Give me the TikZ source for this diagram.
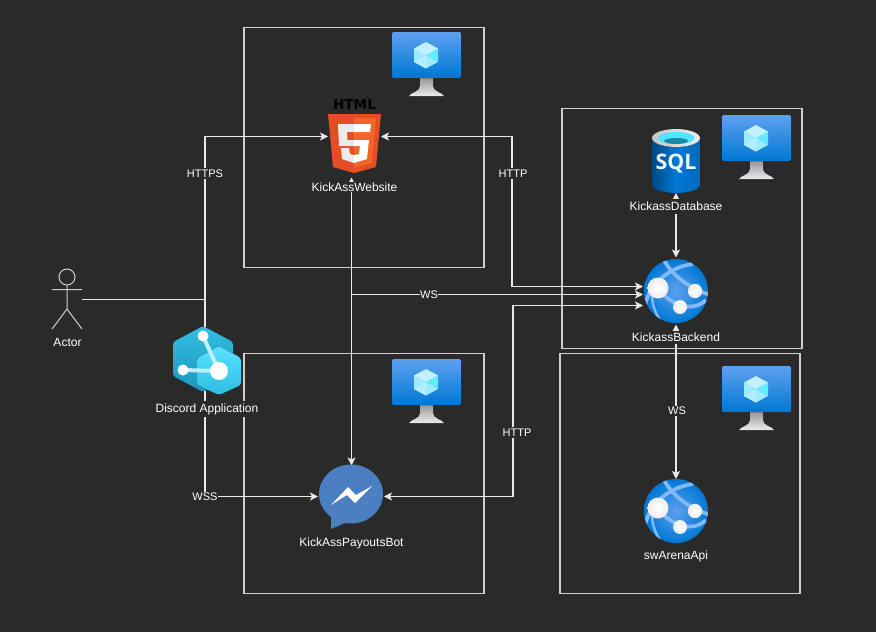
\documentclass[tikz,border=0pt]{standalone}
\usepackage{fontspec}
\setmainfont{Liberation Sans}
\newfontfamily\htmlfont{DejaVu Sans}
\newfontfamily\sqlfont{Open Sans}
\usetikzlibrary{arrows.meta,calc,positioning}
\definecolor{bgc}{HTML}{2A2A2A}
\definecolor{linec}{HTML}{E8E8E8}
\definecolor{boxc}{HTML}{CFCFCF}
\definecolor{blueA}{RGB}{94,160,239}
\definecolor{blueB}{RGB}{0,120,212}
\definecolor{arcc}{RGB}{131,185,249}
\tikzset{
  x=0.75pt,y=-0.75pt,
  box/.style={draw=boxc,line width=0.95pt,inner sep=0pt,minimum width=180pt,minimum height=180pt},
  conn/.style={draw=linec,line width=0.85pt},
  both/.style={{Stealth[length=6pt,width=6pt,inset=1.5pt]}-{Stealth[length=6pt,width=6pt,inset=1.5pt]}},
  fwd/.style={-{Stealth[length=6pt,width=6pt,inset=1.5pt]}},
  lab/.style={font=\fontsize{9}{10.5}\selectfont,text=white,fill=bgc,inner xsep=0.5pt,inner ysep=1.9pt},
  elab/.style={font=\fontsize{8.25}{9.5}\selectfont,text=white,fill=bgc,inner xsep=0.3pt,inner ysep=1pt},
  slot/.style={inner sep=0pt,outer sep=0pt},
  ball/.style={inner color=white,outer color=white!86!gray},
  monitor/.pic={
    \fill[top color=gray!85!white,bottom color=gray!15!white] (28,45) -- (28,54) .. controls (28,60) and (19,60) .. (17,64) -- (52,64) .. controls (50,60) and (41,60) .. (41,54) -- (41,45) -- cycle;
    \fill[rounded corners=1pt,top color=blueA,bottom color=blueB] (0,0) rectangle (69,46);
    \fill[color={rgb,255:red,156;green,235;blue,255}] (34,23) -- (22,16.5) -- (22,30) -- (34,36.5) -- cycle;
    \fill[color={rgb,255:red,100;green,235;blue,255}] (34,23) -- (46,16.5) -- (46,30) -- cycle;
    \fill[color={rgb,255:red,156;green,235;blue,255}] (34,23) -- (46,30) -- (34,36.5) -- cycle;
    \fill[color={rgb,255:red,178;green,238;blue,255}] (34,23) -- (22,30) -- (34,36.5) -- cycle;
    \fill[color={rgb,255:red,195;green,241;blue,255}] (34,10) -- (46,16.5) -- (34,23) -- (22,16.5) -- cycle;
  },
  globe/.pic={
    \shade[inner color=blueA,outer color=blueB] (0,0) circle [radius=32];
    \begin{scope}
      \clip (0,0) circle [radius=32];
      \draw[line width=2.8pt,color=arcc] (-13,-33) .. controls (-6,-18) and (10,-4) .. (34,4);
      \draw[line width=2.8pt,color=arcc] (-31,14) .. controls (-26,-8) and (-6,-24) .. (17,-27);
      \draw[line width=2.8pt,color=arcc] (-16,0) .. controls (-8,10) and (14,24) .. (30,9);
      \draw[line width=1.8pt,color=arcc] (-24,4) .. controls (-24,14) and (-20,24) .. (-14,32);
    \end{scope}
    \shade[ball] (-18,-3) circle [radius=10.5];
    \shade[ball] (19,0) circle [radius=7.2];
    \shade[ball] (4,16) circle [radius=7];
  }
}
\begin{document}
\begin{tikzpicture}
\useasboundingbox[fill=bgc] (0,0) rectangle (876,632);

% frames
\node[box] (frameA) at (364,147.5) {};
\node[box] (frameB) at (682,228.5) {};
\node[box] (frameC) at (364,473.5) {};
\node[box] (frameD) at (680,473.5) {};

% anchor slots for the icons
\node[slot,minimum width=39.75pt,minimum height=61.5pt] (html) at (354.5,136.5) {};
\node[slot,minimum width=36pt,minimum height=48pt] (sql) at (676,161) {};
\node[slot,minimum width=49.5pt,minimum height=50.25pt] (backend) at (676,291) {};
\node[slot,minimum width=48pt,minimum height=48pt] (api) at (676,511) {};
\node[slot,minimum width=49.5pt,minimum height=46.5pt] (bot) at (351,496.5) {};
\node[slot,minimum width=22.5pt,minimum height=45pt] (actor) at (67,299.5) {};
\node[slot,minimum width=51pt,minimum height=52pt] (discord) at (207,361) {};

\coordinate (j1) at (205,299.5);
\coordinate (j2) at (351.5,294.5);
\coordinate (j3) at (512,136.5);
\coordinate (j4) at (512,286.5);
\coordinate (j5) at (513,496.5);
\coordinate (j6) at (513,305.5);
\coordinate (j7) at (205,136.5);
\coordinate (j8) at (205,496.5);

% connectors
\draw[conn] (actor.east) -- (j1);
\draw[conn,fwd] (j1) -- (j7) -- (html.west);
\draw[conn,fwd] (j1) -- (j8) -- (bot.west);
\draw[conn,both] ($(html.south)+(-3,0)$) -- ($(bot.north)+(0.5,0)$);
\draw[conn,both] (html.east) -- (j3) -- (j4) -- ($(backend.west)+(0,-4.5)$);
\draw[conn,fwd] (j2) -- ($(backend.west)+(0,3.5)$);
\draw[conn,both] (bot.east) -- (j5) -- (j6) -- ($(backend.west)+(0,14.5)$);
\draw[conn,both] (sql.south) -- (backend.north);
\draw[conn,both] (backend.south) -- (api.north);

% monitors
\pic at (392,32) {monitor};
\pic at (722,115) {monitor};
\pic at (392,359) {monitor};
\pic at (722,366) {monitor};

% html5 icon
\node[font=\htmlfont\bfseries\fontsize{10.2}{10.2}\selectfont,text=black,inner sep=0pt] (htmltext) at (354.5,104.5) {HTML};
\fill[color={rgb,255:red,228;green,77;blue,38}] (328,114) -- (381,114) -- (376,167) -- (354,173) -- (333,167) -- cycle;
\fill[color={rgb,255:red,241;green,101;blue,41}] (354,118) -- (376,118) -- (372,163) -- (354,168) -- cycle;
\fill[white] (354,124) -- (371,124) -- (370,132) -- (354,132) -- (354,140) -- (369,140) -- (367,159) -- (354,163) -- (354,155) -- (359,154) -- (360,146) -- (354,146) -- cycle;
\fill[color={rgb,255:red,235;green,235;blue,235}] (354,124) -- (338,124) -- (339,146) -- (354,146) -- (354,140) -- (347.5,140) -- (347,132) -- (354,132) -- cycle;
\fill[color={rgb,255:red,235;green,235;blue,235}] (354,155) -- (350,154) -- (349,148) -- (341,148) -- (342,159) -- (354,163) -- cycle;

% sql icon
\fill[left color={rgb,255:red,0;green,72;blue,130},right color={rgb,255:red,0;green,105;blue,190},middle color=blueB] (652,138) -- (652,185) arc [start angle=180,end angle=360,x radius=24,y radius=-8] -- (700,138) -- cycle;
\fill[left color={rgb,255:red,200;green,200;blue,200},right color={rgb,255:red,235;green,235;blue,235}] (676,138) ellipse [x radius=24,y radius=9];
\fill[color={rgb,255:red,80;green,230;blue,255}] (676,138) ellipse [x radius=18.5,y radius=6];
\fill[color={rgb,255:red,25;green,140;blue,170}] (676,141) ellipse [x radius=12,y radius=3];
\node[font=\sqlfont\bfseries\fontsize{16}{16}\selectfont,text=white!92!cyan,inner sep=0pt] (sqltext) at (676,164) {SQL};

% globes
\pic at (backend.center) {globe};
\pic at (api.center) {globe};

% messenger
\fill[color={rgb,255:red,74;green,127;blue,193}] (351,494) ellipse [x radius=32,y radius=29.5];
\fill[color={rgb,255:red,74;green,127;blue,193}] (331,510) -- (331,529) -- (352,520) -- cycle;
\fill[white] (331,505) -- (348,487) -- (356,495) -- (372,486) -- (355,503) -- (347,495) -- cycle;

% actor
\draw[line width=0.75pt,draw=boxc] (67,277) circle [radius=8];
\draw[line width=0.75pt,draw=boxc] (67,285) -- (67,309) (52,289.5) -- (82,289.5) (52,329) -- (67,309) -- (82,329);

% discord
\fill[rounded corners=2pt,top color={rgb,255:red,50;green,190;blue,225},bottom color={rgb,255:red,30;green,150;blue,190}] (203,326) -- (233,342) -- (233,376) -- (203,392) -- (173,376) -- (173,342) -- cycle;
\fill[rounded corners=2pt,top color={rgb,255:red,90;green,225;blue,255},bottom color={rgb,255:red,45;green,190;blue,225}] (219,346) -- (241,358) -- (241,385) -- (219,395) -- (197,385) -- (197,358) -- cycle;
\draw[line width=3pt,color={rgb,255:red,190;green,240;blue,250}] (203,336) -- (219,371) -- (183,370);
\fill[white] (203,336) circle [radius=5.5];
\fill[white] (183,370) circle [radius=5.5];
\fill[white] (219,371) circle [radius=9];

% labels
\node[lab,inner ysep=0.3pt] (l1) at (354.5,187) {KickAssWebsite};
\node[lab,inner ysep=2.6pt] (l2) at (676,206.5) {KickassDatabase};
\node[lab] (l3) at (676,337.5) {KickassBackend};
\node[lab] (l4) at (676,556) {swArenaApi};
\node[lab] (l5) at (351.5,543) {KickAssPayoutsBot};
\node[lab] (l6) at (67.5,342) {Actor};
\node[lab] (l7) at (207,409) {Discord Application};
\node[elab] (e1) at (205,173.5) {HTTPS};
\node[elab] (e2) at (205,497) {WSS};
\node[elab] (e3) at (513,173.5) {HTTP};
\node[elab] (e4) at (429,294.5) {WS};
\node[elab] (e5) at (517,432.5) {HTTP};
\node[elab] (e6) at (677,411) {WS};
\end{tikzpicture}
\end{document}
